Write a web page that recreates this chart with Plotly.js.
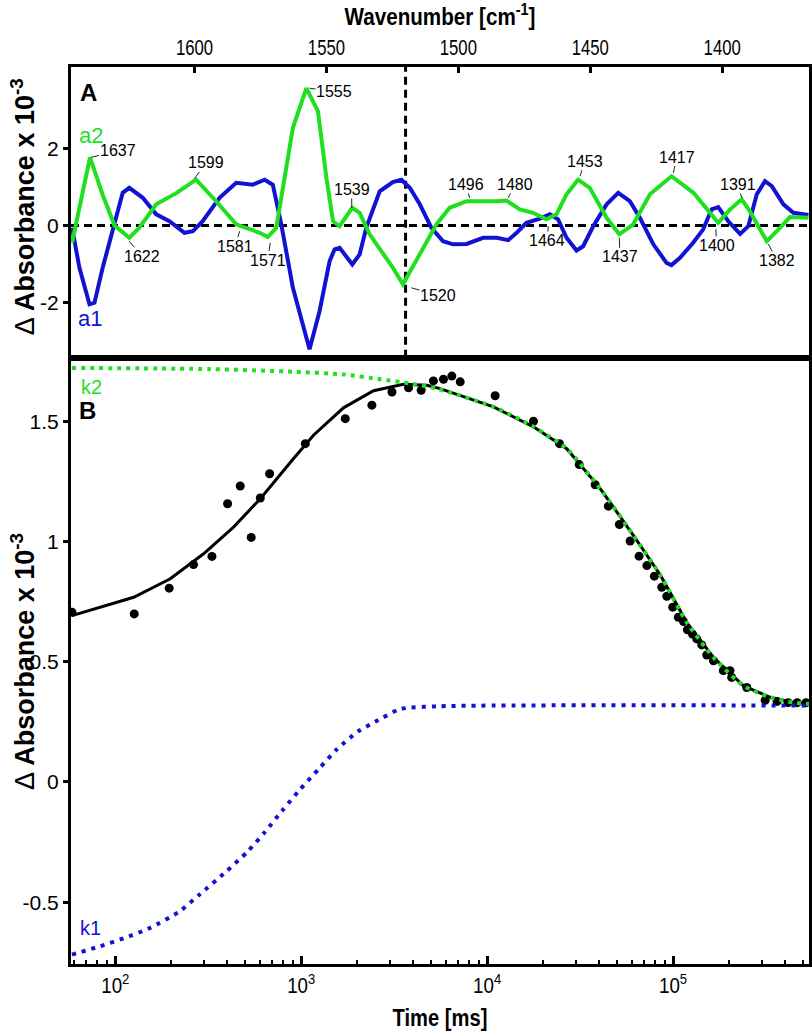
<!DOCTYPE html>
<html><head><meta charset="utf-8">
<script src="https://cdn.plot.ly/plotly-3.0.1.min.js"></script>
<style>html,body{margin:0;padding:0;background:#fff}#chart{width:812px;height:1033px}</style>
</head><body><div id="chart"></div>
<script>
// ---------- Panel A : amplitude spectra ----------
const wnA1 = [1646.4,1643.6,1639.8,1637.9,1634.8,1630.3,1627.2,1624.7,1619.6,1614.5,1609.5,1603.8,1600.6,1596.9,1590.5,1584.2,1577.9,1573.4,1570.3,1567.1,1562.7,1556.4,1552.6,1548.8,1546.9,1545.0,1540.2,1537.4,1534.9,1529.8,1524.8,1521.6,1518.4,1514.6,1510.2,1505.8,1502.0,1496.9,1490.6,1485.5,1481.1,1477.9,1474.2,1469.1,1465.3,1462.2,1459.0,1455.2,1452.7,1448.9,1443.8,1439.4,1435.0,1431.2,1426.1,1421.1,1419.2,1416.0,1411.0,1407.2,1404.0,1401.5,1397.7,1393.2,1390.1,1386.9,1383.8,1381.2,1376.8,1373.0,1367.3];
const a1 = [-0.06,-1.10,-2.05,-2.01,-1.10,0.11,0.85,0.98,0.72,0.29,0.11,-0.19,-0.15,0.11,0.72,1.11,1.06,1.19,1.06,0.03,-1.62,-3.22,-2.23,-0.93,-0.62,-0.58,-1.01,-0.75,-0.06,0.89,1.13,1.19,0.98,0.55,-0.06,-0.41,-0.49,-0.48,-0.32,-0.32,-0.38,-0.19,0.07,0.18,0.29,0.16,-0.32,-0.65,-0.54,-0.02,0.55,0.85,0.63,0.20,-0.49,-0.97,-1.03,-0.84,-0.45,-0.10,0.42,0.48,0.11,-0.22,-0.02,0.81,1.15,1.02,0.55,0.33,0.27];
const wnA2 = [1646.4,1639.6,1634.8,1630.3,1624.7,1620.9,1614.5,1606.9,1599.4,1591.8,1584.2,1580.4,1575.3,1572.2,1569.0,1562.7,1557.6,1553.2,1550.0,1547.5,1545.0,1540.2,1537.4,1533.6,1524.8,1521.0,1514.6,1508.3,1503.3,1496.9,1485.5,1481.8,1476.7,1471.7,1466.6,1462.8,1459.0,1454.6,1450.2,1443.8,1439.0,1433.7,1427.4,1419.2,1410.9,1407.2,1401.5,1397.0,1392.6,1389.5,1383.1,1378.1,1374.3,1367.3];
const a2 = [-0.45,1.77,0.80,0.00,-0.32,-0.06,0.55,0.84,1.19,0.63,0.03,-0.06,-0.19,-0.30,-0.06,2.54,3.57,2.97,1.24,0.11,-0.02,0.46,0.33,-0.23,-1.10,-1.53,-0.75,0.03,0.46,0.63,0.63,0.65,0.42,0.33,0.16,0.29,0.81,1.19,0.98,0.20,-0.23,0.03,0.81,1.28,0.85,0.55,0.07,0.42,0.68,0.37,-0.41,-0.06,0.22,0.20];
const markerWn = 1520;   // dashed vertical line

const peakLabels = ['1637','1622','1599','1581','1571','1555','1539','1520','1496','1480','1464','1453','1437','1417','1400','1391','1382'];
const peakWn  = [1639.2,1624.7,1600.0,1582.9,1571.3,1556.4,1540.4,1517.8,1495.7,1481.1,1465.9,1453.9,1439.0,1418.5,1402.4,1392.6,1382.5];
const peakVal = [1.77,-0.41,1.22,-0.15,-0.45,3.57,0.46,-1.62,0.72,0.72,-0.02,1.28,-0.32,1.37,-0.10,0.72,-0.48];

// ---------- Panel B : kinetics ----------
const tData = [58.5,126.5,195,263.6,331,401.8,469.9,538.3,602.6,676.1,1052,1726,2399,3076,3776,4416,5140,5821,6457,7161,11040,17740,24490,31260,38110,44870,51400,58750,65610,72280,79250,86900,92470,99540,106700,113800,119400,127100,134000,142600,151700,164800,186200,202300,206500,248900,312600,362400,415000,464500,518800];
const yData = [0.706,0.699,0.806,0.904,0.938,1.157,1.231,1.017,1.181,1.282,1.407,1.511,1.567,1.622,1.639,1.629,1.668,1.675,1.688,1.664,1.606,1.500,1.407,1.320,1.236,1.147,1.071,1.002,0.939,0.900,0.856,0.810,0.772,0.727,0.685,0.667,0.633,0.615,0.595,0.570,0.528,0.504,0.463,0.463,0.435,0.393,0.340,0.335,0.330,0.330,0.330];

const tFit = [58.5,125.6,197.7,298.5,432.5,602.6,909.9,1164,1687,2449,3548,4742,5585,10810,17740,26790,40550,61240,85700,118300,164800,238800,332700,446700,538300];
const yFit = [0.692,0.768,0.845,0.949,1.060,1.178,1.345,1.442,1.556,1.627,1.654,1.650,1.636,1.560,1.477,1.386,1.220,1.025,0.858,0.664,0.518,0.400,0.352,0.330,0.325];

const tK2 = [58.5,324,910,1687,2661,3855,5370,10810,17740,26790,40550,61240,85700,118300,164800,238800,332700,446700,538300];
const yK2 = [1.722,1.717,1.706,1.695,1.675,1.657,1.636,1.560,1.477,1.386,1.220,1.025,0.858,0.664,0.518,0.400,0.352,0.330,0.325];

const tK1 = [58.5,83,113,154,220,282,398,511,640,787,989,1239,1556,2018,2500,3404,5585,538300];
const yK1 = [-0.718,-0.683,-0.648,-0.607,-0.54,-0.47,-0.37,-0.292,-0.207,-0.121,-0.030,0.053,0.136,0.210,0.25,0.303,0.315,0.318];

const wnTicks = [1600,1550,1500,1450,1400];
const aTicks = [-2,0,2];
const aTickText = ['-2','0','2'];
const bTicks = [-0.5,0,0.5,1,1.5];
const bTickText = ['-0.5','0','0.5','1','1.5'];
const tTicks = [100,1000,10000,100000];
const tTickText = ['10<sup>2</sup>','10<sup>3</sup>','10<sup>4</sup>','10<sup>5</sup>'];
const tMinor = [60,70,80,90,200,300,400,500,600,700,800,900,2000,3000,4000,5000,6000,7000,8000,9000,20000,30000,40000,50000,60000,70000,80000,90000,200000,300000,400000,500000];
const yTitle = 'Δ <b>Absorbance x 10<sup>-3</sup></b>';

// ---------- styling ----------
const GREEN = '#1fe01f';
const BLUE = '#1212d2';
const SANS = '"Liberation Sans",Arial,sans-serif';
const peakOffsets = [[26.6,-6.7],[12.7,15],[11.7,-15.6],[-4.3,15],[-2.4,17.3],[24.7,3.5],[0,-18.4],[26.6,7.6],[-4,-13.4],[6.7,-13.4],[-1,14.3],[5,-15],[0.7,19],[3.4,-15.7],[0.7,16],[-4,-13.4],[8.4,16.6]];

const traces = [
  {x: wnA1, y: a1, xaxis:'x2', yaxis:'y2', mode:'lines', line:{color:BLUE, width:4}, name:'a1', hoverinfo:'skip'},
  {x: wnA2, y: a2, xaxis:'x2', yaxis:'y2', mode:'lines', line:{color:GREEN, width:4}, name:'a2', hoverinfo:'skip'},
  {x: tFit, y: yFit, xaxis:'x', yaxis:'y', mode:'lines', line:{color:'black', width:3}, name:'fit'},
  {x: tData, y: yData, xaxis:'x', yaxis:'y', mode:'markers', marker:{color:'black', size:9}, name:'data'},
  {x: tK1, y: yK1, xaxis:'x', yaxis:'y', mode:'lines', line:{color:BLUE, width:4, dash:'4px,6px', shape:'spline', smoothing:0.6}, name:'k1'},
  {x: tK2, y: yK2, xaxis:'x', yaxis:'y', mode:'lines', line:{color:GREEN, width:4, dash:'4px,5px', shape:'spline', smoothing:0.6}, name:'k2'}
];

const W = 738, H = 897.6, L = 71, T = 66.7;
const px = (x) => (x - L) / W;
const py = (y) => (T + H - y) / H;

const annotations = peakLabels.map((txt, i) => ({
  x: peakWn[i], y: peakVal[i], xref:'x2', yref:'y2', text: txt,
  showarrow:true, arrowhead:0, arrowwidth:1, arrowcolor:'#222',
  ax: peakOffsets[i][0], ay: peakOffsets[i][1],
  font:{family:SANS, size:16, color:'black'}, borderpad:0
}));
const lab = (x, y, text, size, color, angle) => ({x:px(x), y:py(y), xref:'paper', yref:'paper', xanchor:'center', yanchor:'middle',
  text:text, showarrow:false, textangle:angle || 0, font:{family:SANS, size:size, color:color}});
annotations.push(
  lab(88, 92, '<b>A</b>', 24, 'black'),
  lab(91, 135, 'a2', 22, GREEN),
  lab(90, 318, 'a1', 22, BLUE),
  lab(87, 410, '<b>B</b>', 24, 'black'),
  lab(91, 387, 'k2', 20, GREEN),
  lab(90, 928, 'k1', 20, BLUE),
  lab(23, 207, yTitle, 27, 'black', -90),
  lab(23, 662, yTitle, 27, 'black', -90)
);

const split = 0.6758;
const axisCommon = {showline:true, linewidth:3, linecolor:'black', mirror:true, showgrid:false, zeroline:false, tickcolor:'black'};

const layout = {
  width:812, height:1033,
  margin:{l:71, r:3, t:67, b:69},
  paper_bgcolor:'white', plot_bgcolor:'white',
  showlegend:false,
  xaxis: Object.assign({}, axisCommon, {
    type:'log', anchor:'y', domain:[0,1],
    range:[Math.log10(57.8), Math.log10(538000)],
    tickmode:'array', tickvals:tTicks, ticktext:tTickText,
    ticks:'inside', ticklen:8, tickwidth:3,
    minor:{tickmode:'array', tickvals:tMinor, ticks:'inside', ticklen:4, tickwidth:2, tickcolor:'black', showgrid:false},
    tickfont:{family:SANS, size:22, color:'black'},
    title:{text:'<b>Time [ms]</b>', font:{family:SANS, size:24, color:'black'}, standoff:12}
  }),
  yaxis: Object.assign({}, axisCommon, {
    anchor:'x', domain:[0, split], range:[-0.757, 1.764],
    tickmode:'array', tickvals:bTicks, ticktext:bTickText,
    ticks:'outside', ticklen:5, tickwidth:3,
    tickfont:{family:SANS, size:21, color:'black'}
  }),
  xaxis2: Object.assign({}, axisCommon, {
    anchor:'y2', side:'top', domain:[0,1], range:[1646.8, 1367.1],
    tickmode:'array', tickvals:wnTicks,
    ticks:'inside', ticklen:6, tickwidth:3,
    tickfont:{family:SANS, size:22, color:'black'},
    title:{text:'<b>Wavenumber [cm<sup>-1</sup>]</b>', font:{family:SANS, size:24, color:'black'}, standoff:8}
  }),
  yaxis2: Object.assign({}, axisCommon, {
    anchor:'x2', domain:[split, 1], range:[-3.44, 4.12],
    tickmode:'array', tickvals:aTicks, ticktext:aTickText,
    ticks:'outside', ticklen:5, tickwidth:3,
    tickfont:{family:SANS, size:21, color:'black'}
  }),
  shapes: [
    {type:'line', xref:'x2 domain', yref:'y2', x0:0, x1:1, y0:0, y1:0, line:{color:'black', width:3, dash:'8px,5px'}, layer:'below'},
    {type:'line', xref:'x2', yref:'y2 domain', x0:markerWn, x1:markerWn, y0:0, y1:1, line:{color:'black', width:3, dash:'8px,5px'}, layer:'below'}
  ],
  annotations: annotations
};

// horizontally condense the x-axis texts (narrow typeface look of the original)
function squeeze(sel, s) {
  document.querySelectorAll(sel).forEach(t => {
    const x = parseFloat(t.getAttribute('x')) || 0;
    const prev = t.getAttribute('transform') || '';
    t.setAttribute('transform', prev + ' translate(' + x + ',0) scale(' + s + ',1) translate(' + (-x) + ',0)');
  });
}

Plotly.newPlot('chart', traces, layout, {staticPlot:true, displayModeBar:false}).then(() => {
  squeeze('.xtick text', 0.85);
  squeeze('.x2tick text', 0.76);
  squeeze('.g-xtitle text', 0.84);
  squeeze('.g-x2title text', 0.86);
});
</script>
</body></html>
